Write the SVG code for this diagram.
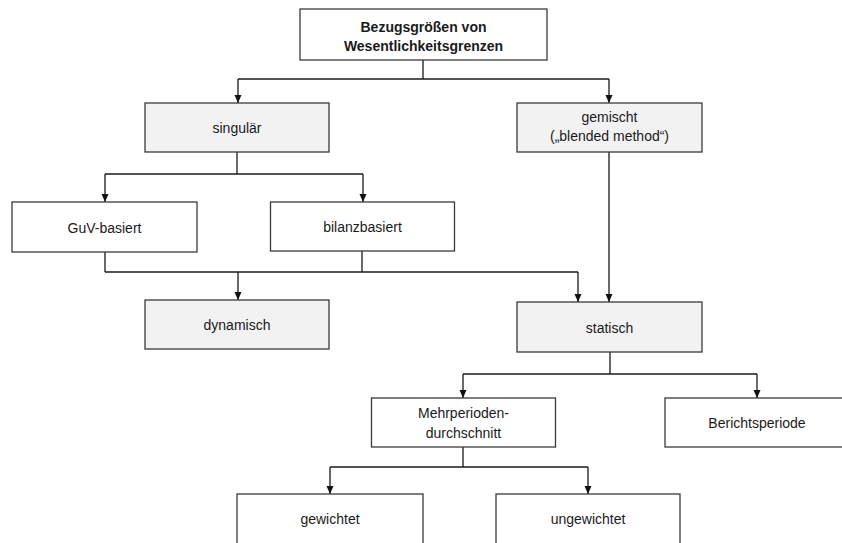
<svg xmlns="http://www.w3.org/2000/svg" width="842" height="543" viewBox="0 0 842 543">
  <defs>
    <marker id="arrow" viewBox="0 0 8 8" refX="8" refY="4" markerWidth="8" markerHeight="8" markerUnits="userSpaceOnUse" orient="auto">
      <path d="M0,0.5 L8,4 L0,7.5 Z" fill="#111"/>
    </marker>
    <style>
      .box { fill: #ffffff; stroke: #3a3a3a; stroke-width: 1.3; }
      .grey { fill: #f2f2f2; }
      .lbl { font-family: "Liberation Sans", Arial, sans-serif; font-size: 14px; fill: #1a1a1a; text-anchor: middle; }
      .bold { font-weight: bold; }
      .line { fill: none; stroke: #1a1a1a; stroke-width: 1.3; }
      .arr { marker-end: url(#arrow); }
    </style>
  </defs>

  <rect width="842" height="543" fill="#ffffff"/>

  <!-- connectors -->
  <g id="connectors">
    <!-- root to first level -->
    <path class="line" d="M423,60 V79"/>
    <path class="line" d="M238,79 H609"/>
    <path class="line arr" d="M238,79 V103"/>
    <path class="line arr" d="M609,79 V103"/>
    <!-- singulär split -->
    <path class="line" d="M237,152 V174"/>
    <path class="line" d="M105,174 H363"/>
    <path class="line arr" d="M105,174 V202"/>
    <path class="line arr" d="M363,174 V202"/>
    <!-- GuV / bilanz merge -->
    <path class="line" d="M105,252 V272"/>
    <path class="line" d="M362,251 V272"/>
    <path class="line" d="M105,272 H578"/>
    <path class="line arr" d="M238,272 V300"/>
    <path class="line arr" d="M578,272 V302"/>
    <!-- gemischt to statisch -->
    <path class="line arr" d="M609,152 V302"/>
    <!-- statisch split -->
    <path class="line" d="M610,352 V374"/>
    <path class="line" d="M463,374 H757"/>
    <path class="line arr" d="M463,374 V398"/>
    <path class="line arr" d="M757,374 V398"/>
    <!-- Mehrperiodendurchschnitt split -->
    <path class="line" d="M463,447 V467"/>
    <path class="line" d="M330,467 H588"/>
    <path class="line arr" d="M330,467 V494"/>
    <path class="line arr" d="M588,467 V494"/>
  </g>

  <g id="root">
    <rect class="box" x="300" y="9" width="247" height="51"/>
    <text class="lbl bold" x="423.5" y="31.5">Bezugsgrößen von</text>
    <text class="lbl bold" x="423.5" y="50.5">Wesentlichkeitsgrenzen</text>
  </g>

  <g id="singular">
    <rect class="box grey" x="145" y="103" width="184" height="49"/>
    <text class="lbl" x="237" y="133">singulär</text>
  </g>

  <g id="gemischt">
    <rect class="box grey" x="517" y="103" width="185" height="49"/>
    <text class="lbl" x="609.5" y="122">gemischt</text>
    <text class="lbl" x="609.5" y="140.5">(„blended method“)</text>
  </g>

  <g id="guv">
    <rect class="box" x="12" y="202" width="185" height="50"/>
    <text class="lbl" x="104.5" y="232.5">GuV-basiert</text>
  </g>

  <g id="bilanz">
    <rect class="box" x="270.5" y="202" width="184" height="49"/>
    <text class="lbl" x="362.5" y="232">bilanzbasiert</text>
  </g>

  <g id="dynamisch">
    <rect class="box grey" x="145" y="300" width="184" height="49"/>
    <text class="lbl" x="237" y="330">dynamisch</text>
  </g>

  <g id="statisch">
    <rect class="box grey" x="517" y="302" width="185" height="50"/>
    <text class="lbl" x="609.5" y="332.5">statisch</text>
  </g>

  <g id="mehrperioden">
    <rect class="box" x="371.5" y="398" width="184" height="49"/>
    <text class="lbl" x="463.5" y="418">Mehrperioden-</text>
    <text class="lbl" x="463.5" y="437.5">durchschnitt</text>
  </g>

  <g id="berichtsperiode">
    <rect class="box" x="665" y="398" width="185" height="49"/>
    <text class="lbl" x="757" y="428">Berichtsperiode</text>
  </g>

  <g id="gewichtet">
    <rect class="box" x="237" y="494" width="186" height="60"/>
    <text class="lbl" x="330" y="524">gewichtet</text>
  </g>

  <g id="ungewichtet">
    <rect class="box" x="496" y="494" width="184" height="60"/>
    <text class="lbl" x="588" y="524">ungewichtet</text>
  </g>
</svg>
